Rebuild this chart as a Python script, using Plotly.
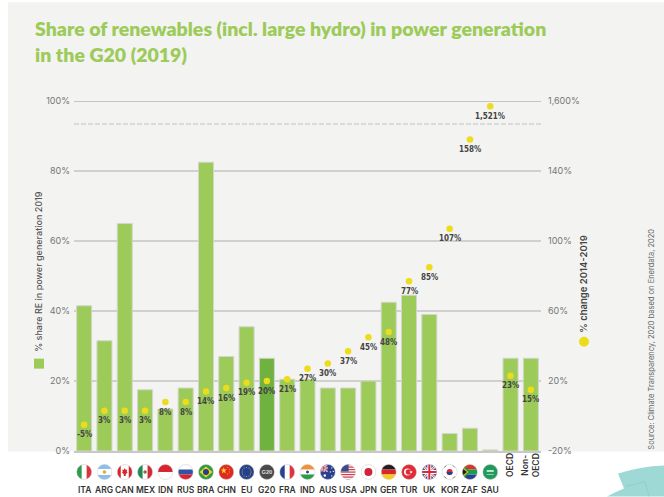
import base64
import plotly.graph_objects as go

countries = ["ITA","ARG","CAN","MEX","IDN","RUS","BRA","CHN","EU","G20","FRA","IND","AUS","USA","JPN","GER","TUR","UK","KOR","ZAF","SAU","OECD","Non-OECD"]
share_re = [41.5,31.5,65,17.5,12,18,82.5,27,35.5,26.5,20.5,20.5,18,18,20,42.5,44.5,39,5,6.5,0.3,26.5,26.5]
change_labels = ["-5%","3%","3%","3%","8%","8%","14%","16%","19%","20%","21%","27%","30%","37%","45%","48%","77%","85%","107%","158%","1,521%","23%","15%"]
# position on the broken right axis (1,521% sits above the axis break)
change_pos = [-5,3,3,3,8,8,14,16,19,20,21,27,30,37,45,48,77,85,107,158,177,23,15]
left_ticks = [0,20,40,60,80,100]
left_tick_labels = ["0%","20%","40%","60%","80%","100%"]
right_ticks = [-20,20,60,100,140,180]
right_tick_labels = ["-20%","20%","60%","100%","140%","1,600%"]

GREEN="#9ccb5a"; DARK="#6fb23f"; YELLOW="#ecdc1a"; BG="#f3f3f2"; GRID="#d0d0ce"
TICK="#777777"; TXT="#444444"
BODY="Inter"
W,H=664,497
L,R,T,B=74,541,101,451.5
def px(X): return (X-L)/(R-L)
def py(Y): return (B-Y)/(B-T)

def flag(inner):
    svg=('<svg xmlns="http://www.w3.org/2000/svg" xmlns:xlink="http://www.w3.org/1999/xlink" width="64" height="64" viewBox="0 0 32 32">'
         '<defs><clipPath id="c"><circle cx="16" cy="16" r="15"/></clipPath></defs>'
         f'<g clip-path="url(#c)"><rect width="32" height="32" fill="#fff"/>{inner}</g>'
         '<circle cx="16" cy="16" r="15" fill="none" stroke="#c9c9c9" stroke-width="1"/></svg>')
    return "data:image/svg+xml;base64,"+base64.b64encode(svg.encode()).decode()
def r(x,y,w,h,c): return f'<rect x="{x}" y="{y}" width="{w}" height="{h}" fill="{c}"/>'
def c(x,y,rad,col): return f'<circle cx="{x}" cy="{y}" r="{rad}" fill="{col}"/>'
def p(pts,col): return f'<polygon points="{pts}" fill="{col}"/>'
def l(x1,y1,x2,y2,col,w): return f'<line x1="{x1}" y1="{y1}" x2="{x2}" y2="{y2}" stroke="{col}" stroke-width="{w}"/>'
uk=r(0,0,32,32,"#3a4f96")+l(0,0,32,32,"#fff",5)+l(32,0,0,32,"#fff",5)+l(0,0,32,32,"#d22b3a",2)+l(32,0,0,32,"#d22b3a",2)+r(12,0,8,32,"#fff")+r(0,12,32,8,"#fff")+r(14,0,4,32,"#d22b3a")+r(0,14,32,4,"#d22b3a")
flags={
"ITA":r(0,0,11,32,"#2f9a4a")+r(21,0,11,32,"#d8343f"),
"ARG":r(0,0,32,10,"#8cbfe8")+r(0,22,32,10,"#8cbfe8")+c(16,16,3.5,"#e8a43a"),
"CAN":r(0,0,8,32,"#d8242f")+r(24,0,8,32,"#d8242f")+p("16,8 18,12 21,11 20,16 22,17 18,20 18,24 14,24 14,20 10,17 12,16 11,11 14,12","#d8242f"),
"MEX":r(0,0,11,32,"#1e8a4f")+r(21,0,11,32,"#cf2b37")+c(16,16,3.5,"#8b6b3d"),
"IDN":r(0,0,32,16,"#d8242f"),
"RUS":r(0,11,32,10,"#3353a4")+r(0,21,32,11,"#d8242f"),
"BRA":r(0,0,32,32,"#2f9a46")+p("16,5 29,16 16,27 3,16","#f3d21f")+c(16,16,6,"#23408e"),
"CHN":r(0,0,32,32,"#de2a25")+p("11,6 12.5,11 17,11 13.5,14 15,19 11,16 7,19 8.5,14 5,11 9.5,11","#f7d81f")+c(19,7,1,"#f7d81f")+c(22,11,1,"#f7d81f")+c(22,16,1,"#f7d81f")+c(19,20,1,"#f7d81f"),
"EU":r(0,0,32,32,"#24418f")+"".join(c(x,y,1,"#f3d21f") for x,y in [(16,7),(21,8),(24,12),(25,16),(24,20),(21,24),(16,25),(11,24),(8,20),(7,16),(8,12),(11,8)]),
"G20":r(0,0,32,32,"#4a4a4a")+'<text x="16" y="20.5" font-family="Liberation Sans" font-size="11.5" font-weight="700" text-anchor="middle" fill="#ddd">G20</text>',
"FRA":r(0,0,11,32,"#27408f")+r(21,0,11,32,"#df3340"),
"IND":r(0,0,32,11,"#f0923a")+r(0,21,32,11,"#2b9a4a")+c(16,16,3,"#2c3f8f"),
"AUS":r(0,0,32,32,"#2b3f8e")+f'<svg x="0" y="0" width="16" height="16" viewBox="0 0 32 32">{uk}</svg>'+c(10,23,2.4,"#fff")+c(24,8,1.3,"#fff")+c(27,15,1.3,"#fff")+c(21,16,1.3,"#fff")+c(24,24,1.3,"#fff"),
"USA":"".join(r(0,y,32,2.5,"#c9404e") for y in [0,5,10,15,20,25,30])+r(0,0,17,15,"#3b4a8c"),
"JPN":c(16,16,8,"#cf2338"),
"GER":r(0,0,32,11,"#1f1f1f")+r(0,11,32,10,"#d8262c")+r(0,21,32,11,"#f4cc1f"),
"TUR":r(0,0,32,32,"#e02a35")+c(13,16,7,"#fff")+c(15,16,5.6,"#e02a35")+p("20,13 21,15.2 23.5,15.2 21.6,16.8 22.4,19 20,17.8 17.8,19 18.6,16.8 16.6,15.2 19,15.2","#fff"),
"UK":uk,
"KOR":c(16,16,6,"#d22b3a")+f'<path d="M10 16a6 6 0 0 0 12 0z" fill="#27408f"/>'+l(5,7,9,3,"#222",2)+l(23,3,27,7,"#222",2)+l(5,25,9,29,"#222",2)+l(23,29,27,25,"#222",2),
"ZAF":r(0,0,32,11,"#d8342c")+r(0,21,32,11,"#27408f")+r(0,11,32,10,"#1f9a4f")+p("0,0 18,16 0,32","#1f9a4f")+p("0,5 13,16 0,27","#f3c51f")+p("0,8 10,16 0,24","#1a1a1a"),
"SAU":r(0,0,32,32,"#1f9a5c")+r(9,12,14,4,"#bfe6cf")+r(9,20,14,1.2,"#e6f5ec"),
}

fig=go.Figure()
fig.add_bar(x=countries,y=share_re,width=0.74,yaxis="y",showlegend=False,
    marker=dict(color=[DARK if k=="G20" else GREEN for k in countries],line=dict(color="#d3d6cb",width=1)))
fig.add_scatter(x=countries,y=change_pos,yaxis="y2",mode="markers",showlegend=False,cliponaxis=False,
    marker=dict(color=YELLOW,size=6.5))

shapes=[
 dict(type="rect",xref="paper",yref="paper",x0=px(8),x1=px(W),y0=py(B+0.5),y1=py(2),fillcolor=BG,line_width=0,layer="below"),
 dict(type="line",xref="paper",yref="y",x0=0,x1=1,y0=100,y1=100,line=dict(color="#b5b5b3",width=1.5),layer="below"),
 dict(type="line",xref="paper",yref="y",x0=0,x1=1,y0=93.4,y1=93.4,line=dict(color="#d2d2d0",width=1.5,dash="5px,2px"),layer="below"),
 dict(type="rect",xref="paper",yref="paper",x0=px(34),x1=px(44),y0=py(369),y1=py(359),fillcolor=GREEN,line_width=0),
 dict(type="circle",xref="paper",yref="paper",x0=px(579),x1=px(589),y0=py(347),y1=py(337),fillcolor=YELLOW,line_width=0),
 dict(type="path",xref="paper",yref="paper",fillcolor="#9fd9d6",line_width=0,
      path=f"M {px(618)} {py(474)} Q {px(640)} {py(467)} {px(664)} {py(466)} L {px(664)} {py(497)} L {px(607)} {py(497)} Q {px(614)} {py(493)} {px(624)} {py(489)} Z"),
 dict(type="path",xref="paper",yref="paper",line=dict(color="#8fcfcc",width=1),
      path=f"M {px(626)} {py(487)} L {px(645)} {py(482)} L {px(649)} {py(497)}"),
]
anns=[]
def txt(X,Y,s,size,col=TICK,angle=0,weight=400,family=BODY,xa="center",ya="middle"):
    anns.append(dict(xref="paper",yref="paper",x=px(X),y=py(Y),text=s,showarrow=False,textangle=angle,xanchor=xa,yanchor=ya,
                     font=dict(family=family,size=size,color=col,weight=weight)))
txt(33,28,"Share of renewables (incl. large hydro) in power generation",19.5,GREEN,weight=800,family="Lato",xa="left")
txt(33,54,"in the G20 (2019)",19.5,GREEN,weight=800,family="Lato",xa="left")
txt(39,272,"% share RE in power generation 2019",9,"#555555",angle=-90,weight=500)
txt(584,284,"% change 2014-2019",9.5,"#444444",angle=-90,weight=600)
txt(652,340,"Source: Climate Transparency, 2020 based on Enerdata, 2020",7.5,"#666666",angle=-90)

for k,v,s in zip(countries,change_pos,change_labels):
    anns.append(dict(xref="x",yref="y2",x=k,y=v,text=s,showarrow=False,yshift=-10,xanchor="center",yanchor="middle",
                     font=dict(family="DejaVu Sans Condensed",size=8,color=TXT,weight=700)))

images=[]
for i,k in enumerate(countries):
    if k in flags:
        images.append(dict(source=flag(flags[k]),xref="x",yref="paper",x=i,y=py(472.5),sizex=16/((R-L)/23),sizey=16/(B-T),
                           xanchor="center",yanchor="middle",sizing="contain",layer="above"))
        anns.append(dict(xref="x",yref="paper",x=k,y=py(491),text=k,showarrow=False,xanchor="center",yanchor="middle",
                         font=dict(family=BODY,size=8.5,color="#333333",weight=600)))
anns.append(dict(xref="x",yref="paper",x="OECD",y=py(480),text="OECD",showarrow=False,textangle=-90,
                 font=dict(family=BODY,size=8.5,color="#333333",weight=600)))
anns.append(dict(xref="x",yref="paper",x="Non-OECD",y=py(480),text="Non-<br>OECD",showarrow=False,textangle=-90,
                 font=dict(family=BODY,size=8.5,color="#333333",weight=600)))

fig.update_layout(width=W,height=H,margin=dict(l=L,r=W-R,t=T,b=H-B),paper_bgcolor="#ffffff",plot_bgcolor="rgba(0,0,0,0)",
    font=dict(family=BODY),bargap=0.26,shapes=shapes,annotations=anns,images=images,
    xaxis=dict(type="category",categoryorder="array",categoryarray=countries,range=[-0.5,22.5],showticklabels=False,ticks="",
               showgrid=False,zeroline=False,showline=True,linecolor="#c8c8c6",linewidth=1.5),
    yaxis=dict(range=[0,100],tickvals=left_ticks,ticktext=left_tick_labels,showgrid=True,gridcolor=GRID,gridwidth=1.5,zeroline=False,showline=False,
               ticks="",ticklabelstandoff=3,tickfont=dict(family=BODY,size=9,color=TICK)),
    yaxis2=dict(range=[-20,180],overlaying="y",side="right",tickvals=right_ticks,ticktext=right_tick_labels,showgrid=False,zeroline=False,
                showline=False,ticks="",ticklabelstandoff=6,tickfont=dict(family=BODY,size=9,color=TICK)),
)
fig.write_html("out.html",config=dict(displayModeBar=False),post_script="document.body.style.margin='0';")
